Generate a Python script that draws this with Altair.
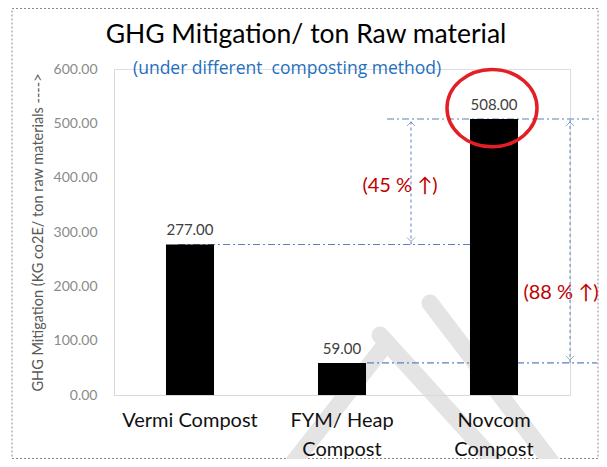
import altair as alt
import pandas as pd

# ---- data ----
categories = ["Vermi Compost", "FYM/ Heap Compost", "Novcom Compost"]
values = [277.0, 59.0, 508.0]
y_ticks = [0, 100, 200, 300, 400, 500, 600]

title_text = "GHG Mitigation/ ton Raw material"
subtitle_text = "(under different\u00a0 composting method)"
y_title = "GHG Mitigation (KG co2E/ ton raw materials ---->"
pct_labels = ["(45 % \u2191)", "(88 % \u2191)"]
pct_label_y = [385, 188]

FONT = "Lato"
W, H = 456, 326

df = pd.DataFrame({"cat": categories, "val": values})

xscale = alt.Scale(domain=categories, paddingInner=0.684, paddingOuter=0.342)
yscale = alt.Scale(domain=[0, 600])

base = alt.Chart(df)

bars = base.mark_bar(color="black").encode(
    x=alt.X("cat:N", scale=xscale, sort=categories, title=None,
            axis=alt.Axis(labelAngle=0, ticks=False, domainColor="#d9d9d9",
                          labelColor="#111111", labelFontSize=20, labelFont=FONT,
                          labelPadding=15, labelBaseline="top", labelLineHeight=29,
                          zindex=1,
                          labelExpr="indexof(datum.label, 'Vermi') >= 0 ? datum.label : [replace(datum.label, ' Compost', ''), 'Compost']")),
    y=alt.Y("val:Q", scale=yscale, title=y_title,
            axis=alt.Axis(values=y_ticks, format=".2f", grid=False, ticks=False,
                          domainColor="#d9d9d9", labelColor="#8a8a8a", labelFontSize=14,
                          labelFont=FONT, labelPadding=17, zindex=1,
                          titleFont=FONT, titleFontSize=14.5, titleFontWeight="normal",
                          titleColor="#595959", titleX=-76, titleY=163,
                          titleAlign="center", titleBaseline="middle")),
)

value_labels = base.mark_text(font=FONT, fontSize=15, color="#404040",
                              baseline="alphabetic", dy=-9).encode(
    x=alt.X("cat:N", scale=xscale, sort=categories),
    y=alt.Y("val:Q", scale=yscale),
    text=alt.Text("val:Q", format=".2f"),
)

# reference lines (dash-dot)
LINE_COLOR = "#5b82bd"
DASHDOT = [7, 3, 2, 3]
h_rules = alt.Chart(pd.DataFrame({"v": [values[0]]})).mark_rule(
    color=LINE_COLOR, strokeDash=DASHDOT, strokeWidth=1.2).encode(
    y=alt.Y("v:Q", scale=yscale), x=alt.value(64), x2=alt.value(379))
h_rules2 = alt.Chart(pd.DataFrame({"v": [values[1]]})).mark_rule(
    color=LINE_COLOR, strokeDash=DASHDOT, strokeWidth=1.2).encode(
    y=alt.Y("v:Q", scale=yscale), x=alt.value(253), x2=alt.value(483))
h_rules3 = alt.Chart(pd.DataFrame({"v": [values[2]]})).mark_rule(
    color=LINE_COLOR, strokeDash=DASHDOT, strokeWidth=1.2).encode(
    y=alt.Y("v:Q", scale=yscale), x=alt.value(273), x2=alt.value(483))

# vertical arrows
v1 = alt.Chart(pd.DataFrame({"a": [values[0]], "b": [values[2]]})).mark_rule(
    color=LINE_COLOR, strokeDash=[3, 3], strokeWidth=1).encode(
    x=alt.value(297), y=alt.Y("a:Q", scale=yscale), y2="b:Q")
v2 = alt.Chart(pd.DataFrame({"a": [values[1]], "b": [values[2]]})).mark_rule(
    color=LINE_COLOR, strokeDash=[3, 3], strokeWidth=1).encode(
    x=alt.value(456), y=alt.Y("a:Q", scale=yscale), y2="b:Q")

up_head = alt.Chart(pd.DataFrame({"v": [values[2], values[2]], "px": [297, 456]})).mark_point(
    shape="M-1,1L0,0L1,1", size=64, color=LINE_COLOR, filled=False, strokeWidth=1).encode(
    x=alt.X("px:Q", scale=None), y=alt.Y("v:Q", scale=yscale), yOffset=alt.value(3))
down_head = alt.Chart(pd.DataFrame({"v": [values[0], values[1]], "px": [297, 456]})).mark_point(
    shape="M-1,-1L0,0L1,-1", size=64, color=LINE_COLOR, filled=False, strokeWidth=1).encode(
    x=alt.X("px:Q", scale=None), y=alt.Y("v:Q", scale=yscale), yOffset=alt.value(-3))

pct = alt.Chart(pd.DataFrame({"t": pct_labels, "v": pct_label_y, "px": [286, 447]})).mark_text(
    font=FONT, fontSize=20, color="#c00000", baseline="middle").encode(
    x=alt.X("px:Q", scale=None), y=alt.Y("v:Q", scale=yscale), text="t:N")

# red hand-drawn circle around the max value
circle = alt.Chart(pd.DataFrame({"v": [528], "px": [378]})).mark_point(
    shape="M-1,0A1,0.86,0,1,1,1,0A1,0.86,0,1,1,-1,0", size=8100,
    color="#e31e24", filled=False, strokeWidth=3.5, opacity=1).encode(
    x=alt.X("px:Q", scale=None), y=alt.Y("v:Q", scale=yscale))

# titles
titles = alt.Chart(pd.DataFrame({"t": [title_text]})).mark_text(
    font=FONT, fontSize=26.5, color="#000000", baseline="alphabetic", align="center").encode(
    x=alt.value(192), y=alt.value(-26), text="t:N")
subtitle = alt.Chart(pd.DataFrame({"t": [subtitle_text]})).mark_text(
    font="Open Sans", fontSize=17.5, color="#1f6fbf", baseline="middle", align="left").encode(
    x=alt.value(19), y=alt.value(0), text="t:N")

# dashed outer frame
frame = alt.Chart(pd.DataFrame({"k": [0]})).mark_rect(
    fillOpacity=0, stroke="#8a8a8a", strokeDash=[2, 2], strokeWidth=1).encode(
    x=alt.value(-102), x2=alt.value(484), y=alt.value(-60.5), y2=alt.value(389.5))

# faint watermark strokes
wm = []
for (xa, ya, xb, yb) in [(176, 398, 271, 276), (266, 266, 386, 398), (316, 234, 441, 398)]:
    wm.append(alt.Chart(pd.DataFrame({"k": [0]})).mark_rule(
        color="#e4e4e4", strokeWidth=17, strokeCap="round").encode(
        x=alt.value(xa), y=alt.value(ya), x2=alt.value(xb), y2=alt.value(yb)))

chart = alt.layer(
    frame, *wm, h_rules, h_rules2, h_rules3, v1, v2, up_head, down_head,
    bars, value_labels, pct, circle, titles, subtitle
).properties(
    width=W, height=H,
    autosize=alt.AutoSizeParams(type="none"),
    padding={"left": 106, "top": 61, "right": 29, "bottom": 64},
).configure_view(stroke=None).configure(font=FONT)

chart.save("out.html", embed_options={"renderer": "svg", "actions": False})
